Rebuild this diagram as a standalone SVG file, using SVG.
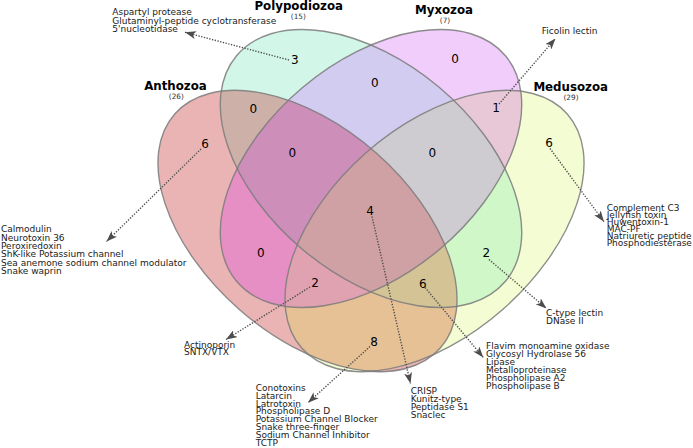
<svg xmlns="http://www.w3.org/2000/svg" xmlns:xlink="http://www.w3.org/1999/xlink" width="693" height="448" viewBox="0 0 693 448">
<style>
.outline{fill:none;stroke:#7a7a7a;stroke-width:1.4;stroke-opacity:0.85}
.cat{font-family:"DejaVu Sans",Verdana,sans-serif;font-weight:bold;font-size:11.8px;fill:#000;text-anchor:middle}
.cnt{font-family:"DejaVu Sans",Verdana,sans-serif;font-size:7.3px;fill:#333;text-anchor:middle}
.num{font-family:"DejaVu Sans",Verdana,sans-serif;font-size:12px;fill:#000;text-anchor:middle}
.lst{font-family:"DejaVu Sans",Verdana,sans-serif;font-size:9px;fill:#1a1a1a}
.con{fill:none;stroke:#4d4d4d;stroke-width:1.4;stroke-dasharray:1.3 1.5;marker-end:url(#ah)}
</style>
<defs>
<ellipse id="eA" cx="307.5" cy="231" rx="177" ry="104" transform="rotate(41.4 307.5 231)"/>
<ellipse id="eB" cx="371" cy="168.5" rx="175.5" ry="106" transform="rotate(40 371 168.5)"/>
<ellipse id="eC" cx="371" cy="168.5" rx="175.5" ry="106" transform="rotate(-40 371 168.5)"/>
<ellipse id="eD" cx="434.5" cy="231" rx="177" ry="104" transform="rotate(-41.4 434.5 231)"/>
<clipPath id="cA"><ellipse cx="307.5" cy="231" rx="177" ry="104" transform="rotate(41.4 307.5 231)"/></clipPath>
<clipPath id="cB"><ellipse cx="371" cy="168.5" rx="175.5" ry="106" transform="rotate(40 371 168.5)"/></clipPath>
<clipPath id="cC"><ellipse cx="371" cy="168.5" rx="175.5" ry="106" transform="rotate(-40 371 168.5)"/></clipPath>
<clipPath id="cD"><ellipse cx="434.5" cy="231" rx="177" ry="104" transform="rotate(-41.4 434.5 231)"/></clipPath>
<marker id="ah" viewBox="0 0 11 8" refX="11" refY="4" markerWidth="11" markerHeight="8" markerUnits="userSpaceOnUse" orient="auto">
<path d="M0,0 L11,4 L0,8 L2.8,4 Z" fill="#4d4d4d"/>
</marker>
</defs>
<rect width="693" height="448" fill="#fff"/>
<g id="regions">
<use xlink:href="#eA" fill="#EBB4B4"/>
<use xlink:href="#eD" fill="#F3FCD2"/>
<use xlink:href="#eB" fill="#D2F7E9"/>
<use xlink:href="#eC" fill="#F0CDFA"/>
<g clip-path="url(#cA)"><use xlink:href="#eB" fill="#CDB0A8"/></g>
<g clip-path="url(#cA)"><use xlink:href="#eC" fill="#E68FC4"/></g>
<g clip-path="url(#cA)"><use xlink:href="#eD" fill="#E7C196"/></g>
<g clip-path="url(#cB)"><use xlink:href="#eC" fill="#D2CDF0"/></g>
<g clip-path="url(#cB)"><use xlink:href="#eD" fill="#D0F7C8"/></g>
<g clip-path="url(#cC)"><use xlink:href="#eD" fill="#E8C8D6"/></g>
<g clip-path="url(#cA)"><g clip-path="url(#cB)"><use xlink:href="#eC" fill="#CE8EBA"/></g></g>
<g clip-path="url(#cA)"><g clip-path="url(#cB)"><use xlink:href="#eD" fill="#D3C395"/></g></g>
<g clip-path="url(#cA)"><g clip-path="url(#cC)"><use xlink:href="#eD" fill="#E0A1B1"/></g></g>
<g clip-path="url(#cB)"><g clip-path="url(#cC)"><use xlink:href="#eD" fill="#CECCD1"/></g></g>
<g clip-path="url(#cA)"><g clip-path="url(#cB)"><g clip-path="url(#cC)"><use xlink:href="#eD" fill="#CFA0A4"/></g></g></g>
</g>
<g id="set-anthozoa"><use xlink:href="#eA" class="outline"/><text class="cat" x="175.5" y="90">Anthozoa</text><text class="cnt" x="176.3" y="98.7">(26)</text></g>
<g id="set-polypodiozoa"><use xlink:href="#eB" class="outline"/><text class="cat" x="298.7" y="10">Polypodiozoa</text><text class="cnt" x="298.3" y="19.3">(15)</text></g>
<g id="set-myxozoa"><use xlink:href="#eC" class="outline"/><text class="cat" x="444" y="14">Myxozoa</text><text class="cnt" x="445" y="23.3">(7)</text></g>
<g id="set-medusozoa"><use xlink:href="#eD" class="outline"/><text class="cat" x="570.7" y="90.7">Medusozoa</text><text class="cnt" x="571" y="100">(29)</text></g>
<g id="counts">
<g id="n-A"><text class="num" x="205" y="147.5">6</text></g>
<g id="n-B"><text class="num" x="294.7" y="64">3</text></g>
<g id="n-C"><text class="num" x="455" y="63.3">0</text></g>
<g id="n-D"><text class="num" x="549" y="146.7">6</text></g>
<g id="n-AB"><text class="num" x="253.3" y="113.3">0</text></g>
<g id="n-BC"><text class="num" x="374.7" y="86.7">0</text></g>
<g id="n-CD"><text class="num" x="496" y="112.3">1</text></g>
<g id="n-ABC"><text class="num" x="292.3" y="157.3">0</text></g>
<g id="n-BCD"><text class="num" x="432.3" y="157.3">0</text></g>
<g id="n-AC"><text class="num" x="260.7" y="257.3">0</text></g>
<g id="n-BD"><text class="num" x="486.2" y="257.3">2</text></g>
<g id="n-ACD"><text class="num" x="315" y="287.3">2</text></g>
<g id="n-ABD"><text class="num" x="422.7" y="287.7">6</text></g>
<g id="n-ABCD"><text class="num" x="370" y="215">4</text></g>
<g id="n-AD"><text class="num" x="374" y="346">8</text></g>
</g>
<g id="connectors">
<line class="con" x1="289" y1="60" x2="185" y2="32.3"/>
<line class="con" x1="499" y1="104" x2="555.5" y2="38.5"/>
<line class="con" x1="201" y1="149" x2="106.5" y2="241.5"/>
<line class="con" x1="550" y1="148.5" x2="604" y2="221.7"/>
<line class="con" x1="489" y1="259.5" x2="546.5" y2="308.5"/>
<line class="con" x1="425" y1="287.5" x2="483.3" y2="357.5"/>
<line class="con" x1="372" y1="216.5" x2="410.5" y2="383.5"/>
<line class="con" x1="310" y1="287" x2="226" y2="339.5"/>
<line class="con" x1="370" y1="346.5" x2="308" y2="402.7"/>
</g>
<g id="list-polypodiozoa"><text class="lst" x="112.3" y="15">Aspartyl protease</text><text class="lst" x="112.3" y="23.7">Glutaminyl-peptide cyclotransferase</text><text class="lst" x="112.3" y="32.3">5'nucleotidase</text></g>
<g id="list-cd"><text class="lst" x="541.7" y="34">Ficolin lectin</text></g>
<g id="list-anthozoa"><text class="lst" x="1" y="232.3">Calmodulin</text><text class="lst" x="1" y="240.6">Neurotoxin 36</text><text class="lst" x="1" y="248.9">Peroxiredoxin</text><text class="lst" x="1" y="257.2">ShK-like Potassium channel</text><text class="lst" x="1" y="265.5">Sea anemone sodium channel modulator</text><text class="lst" x="1" y="273.8">Snake waprin</text></g>
<g id="list-medusozoa"><text class="lst" x="606.7" y="210.5">Complement C3</text><text class="lst" x="606.7" y="217.6">Jellyfish toxin</text><text class="lst" x="606.7" y="224.7">Huwentoxin-1</text><text class="lst" x="606.7" y="231.8">MAC-PF</text><text class="lst" x="606.7" y="238.9">Natriuretic peptide</text><text class="lst" x="606.7" y="246">Phosphodiesterase</text></g>
<g id="list-bd"><text class="lst" x="546" y="316">C-type lectin</text><text class="lst" x="546" y="324">DNase II</text></g>
<g id="list-abd"><text class="lst" x="486" y="349.3">Flavim monoamine oxidase</text><text class="lst" x="486" y="357.3">Glycosyl Hydrolase 56</text><text class="lst" x="486" y="365.3">Lipase</text><text class="lst" x="486" y="373.3">Metalloproteinase</text><text class="lst" x="486" y="381.3">Phospholipase A2</text><text class="lst" x="486" y="389.3">Phospholipase B</text></g>
<g id="list-abcd"><text class="lst" x="410.7" y="394.3">CRISP</text><text class="lst" x="410.7" y="402.2">Kunitz-type</text><text class="lst" x="410.7" y="410.1">Peptidase S1</text><text class="lst" x="410.7" y="418">Snaclec</text></g>
<g id="list-acd"><text class="lst" x="184" y="347.5">Actinoporin</text><text class="lst" x="184" y="355.3">SNTX/VTX</text></g>
<g id="list-ad"><text class="lst" x="255.7" y="390.7">Conotoxins</text><text class="lst" x="255.7" y="398.6">Latarcin</text><text class="lst" x="255.7" y="406.5">Latrotoxin</text><text class="lst" x="255.7" y="414.4">Phospholipase D</text><text class="lst" x="255.7" y="422.3">Potassium Channel Blocker</text><text class="lst" x="255.7" y="430.2">Snake three-finger</text><text class="lst" x="255.7" y="438.1">Sodium Channel Inhibitor</text><text class="lst" x="255.7" y="446">TCTP</text></g>
</svg>
